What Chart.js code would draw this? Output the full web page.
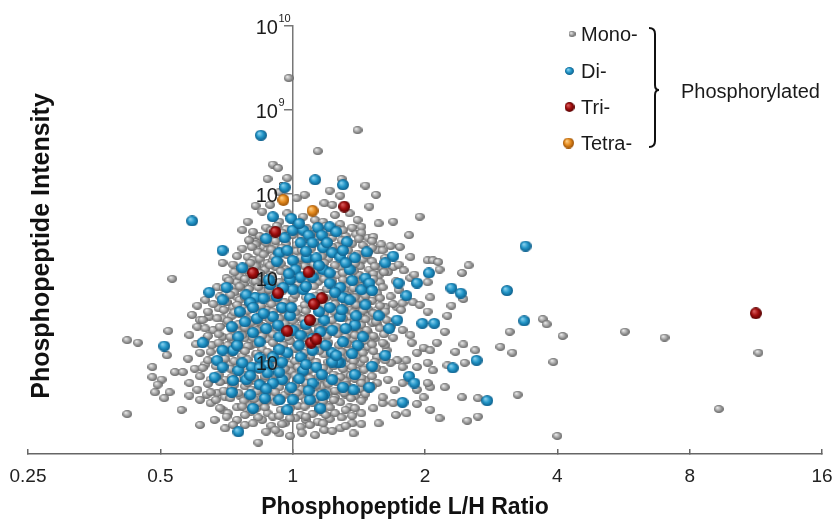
<!DOCTYPE html>
<html><head><meta charset="utf-8">
<script src="https://cdn.jsdelivr.net/npm/chart.js@4.4.0/dist/chart.umd.min.js"></script>
<style>html,body{margin:0;padding:0;background:#fff}#wrap{width:834px;height:525px;position:relative}</style>
</head><body><div id="wrap"><canvas id="c" width="834" height="525"></canvas></div>
<script>
// ---- tick labels / names ----
const xTickValues = [0.25, 0.5, 1, 2, 4, 8, 16];
const xTickLabels = ['0.25', '0.5', '1', '2', '4', '8', '16'];
const yTickExponents = [6, 7, 8, 9, 10];
const seriesNames = ['Mono-', 'Di-', 'Tri-', 'Tetra-'];
const groupLabel = 'Phosphorylated';
const xTitle = 'Phosphopeptide L/H Ratio';
const yTitle = 'Phosphopeptide Intensity';

// ---- data: log2(L/H ratio) and log10(intensity) ----
const monoLog2Ratio = [
-0.03,0.49,0.19,-0.15,-0.11,-0.19,-0.04,0.37,0.55,0.63,0.28,0.36,0.09,0.03,0.24,0.30,-0.23,-0.17,-0.04,0.43,0.49,0.52,0.08,0.17,0.23,0.58,0.65,0.76,0.96,0.88,0.67,-0.10,0.32,-0.10,-0.34,0.36,-0.28,
1.02,1.06,1.10,1.11,1.33,1.28,1.29,1.20,1.17,1.02,1.15,1.29,1.38,1.17,1.30,1.15,1.28,1.32,1.40,1.04,1.02,0.94,0.94,0.86,0.68,0.61,0.45,0.65,1.64,1.57,1.66,1.70,1.89,1.92,2.04,1.97,2.51,2.81,3.52,3.22,2.00,0.71,0.79,0.89,
0.57,0.61,0.76,0.72,0.89,0.92,1.02,0.91,0.96,1.04,0.79,0.83,0.70,0.64,0.61,0.58,0.64,0.83,0.89,0.76,0.70,0.90,0.94,0.99,1.04,1.09,1.02,1.06,0.86,0.83,0.74,0.68,0.64,0.58,0.64,0.72,0.77,0.83,0.94,0.99,0.68,0.76,0.53,0.52,0.43,
1.23,1.11,0.78,1.04,1.40,0.81,0.74,
-0.38,-0.30,-0.32,-0.27,-0.22,-0.23,-0.34,-0.30,-0.35,-0.25,-0.19,-0.15,-0.53,-0.45,-0.41,-0.36,-0.91,-0.50,-0.57,-0.42,-0.72,-0.76,-0.72,-0.94,-1.25,-1.17,-0.95,-1.06,-1.06,-0.79,-0.89,-0.83,-0.99,-1.02,-0.78,-0.72,-0.65,-0.84,-1.25,-0.26,-0.62,-0.53,-0.49,-0.42,-0.31,-0.26,-0.19,-0.15,-0.06,-0.10,0.06,-0.42,0.10,0.24,-0.02,0.36,0.17,
-0.70,-0.62,-0.57,-0.51,-0.46,-0.50,-0.45,-0.42,-0.50,-0.56,-0.63,-0.60,-0.53,-0.78,-0.66,-0.70,-0.66,-0.53,-0.61,-0.74,-0.66,-0.70,-0.78,-0.93,-0.59,-0.70,-0.51,-0.36,-0.97,-1.04,
-0.20,-0.12,-0.05,0.04,0.11,0.25,0.34,0.45,
-0.25,-0.17,-0.09,0.00,0.07,0.15,0.30,0.40,0.48,
-0.28,-0.20,-0.13,-0.05,0.03,0.20,0.34,0.45,0.53,
-0.26,-0.19,-0.12,0.03,0.25,0.42,0.49,0.57,0.64,
-0.25,-0.10,0.06,0.13,0.27,0.42,0.53,0.60,
-0.28,-0.21,-0.13,-0.06,0.09,0.19,0.36,0.43,0.51,0.58,0.66,
-0.40,-0.32,-0.23,-0.16,-0.05,0.06,0.19,0.34,0.42,0.50,0.57,0.65,
-0.37,-0.29,-0.22,-0.13,0.04,0.19,0.43,0.51,0.58,0.66,
-0.44,-0.23,-0.16,-0.08,0.21,0.43,0.49,0.56,0.64,
-0.40,-0.19,-0.13,0.00,0.21,0.32,0.45,0.52,0.60,
-0.37,-0.26,-0.19,-0.02,0.06,0.19,0.43,0.49,0.57,
-0.46,-0.40,-0.21,-0.06,0.04,0.22,0.43,0.51,
-0.41,-0.31,-0.23,-0.06,0.07,0.15,0.27,0.43,0.52,0.60,
-0.41,-0.34,-0.26,-0.19,0.12,0.22,0.43,0.49,0.57,
-0.46,-0.36,-0.31,-0.19,-0.02,0.09,0.22,0.45,0.55,0.62,
-0.40,-0.32,-0.23,-0.11,0.02,0.24,0.42,0.57,
-0.38,-0.28,-0.22,-0.10,0.13,0.24,0.42,0.49,
-0.47,-0.36,-0.26,-0.11,-0.02,0.27,0.43,0.51,
-0.34,-0.25,-0.10,-0.01,0.09,0.27,0.40,0.49,
-0.51,-0.40,-0.28,-0.21,0.04,0.22,0.40,0.47,0.55,
-0.46,-0.36,-0.31,-0.10,0.06,0.22,0.36,0.43,0.51,0.60,
-0.40,-0.23,-0.16,-0.06,0.06,0.17,0.32,0.40,0.47,
-0.34,-0.13,0.04,0.15,0.27,0.36,
-0.32,-0.06,0.15,0.22,0.32,
-0.23,0.02,0.19,0.28,
-0.30,-0.16,-0.08,0.02,0.21,0.29,0.38,0.52,
-0.33,-0.22,-0.13,0.10,0.26,0.37,0.50,0.60,
-0.38,-0.31,-0.16,-0.08,0.07,0.14,0.30,0.38,0.60,0.68,
-0.42,-0.22,-0.14,-0.04,0.06,0.22,0.31,0.45,0.56,0.70,
-0.45,-0.32,-0.17,-0.09,0.03,0.16,0.24,0.32,0.47,0.62,0.80,
-0.44,-0.36,-0.25,-0.09,0.01,0.12,0.26,0.38,0.46,0.61,0.69,0.84,
-0.48,-0.36,-0.28,-0.20,-0.10,0.10,0.24,0.30,0.38,0.46,0.53,0.61,0.78,
-0.52,-0.40,-0.33,-0.26,-0.18,0.01,0.16,0.26,0.32,0.39,0.46,0.53,0.60,0.68,0.80,
-0.55,-0.47,-0.36,-0.30,-0.23,-0.12,0.02,0.10,0.17,0.25,0.33,0.40,0.47,0.55,0.66,0.74,
-0.60,-0.50,-0.42,-0.33,-0.24,-0.16,-0.06,0.09,0.17,0.24,0.32,0.40,0.48,0.56,0.66,0.76,
-0.64,-0.52,-0.44,-0.34,-0.24,-0.15,-0.08,0.02,0.10,0.24,0.31,0.39,0.46,0.53,0.61,0.70,0.82,
-0.68,-0.57,-0.49,-0.34,-0.26,-0.17,-0.10,0.00,0.08,0.17,0.30,0.38,0.47,0.55,0.63,0.71,
-0.66,-0.55,-0.46,-0.36,-0.27,-0.18,-0.10,-0.02,0.03,0.11,0.20,0.33,0.39,0.47,0.56,0.66,0.74,
-0.64,-0.56,-0.47,-0.38,-0.30,-0.23,-0.15,-0.04,0.04,0.16,0.26,0.34,0.40,0.47,0.53,0.61,0.69,
-0.73,-0.56,-0.49,-0.41,-0.34,-0.27,-0.15,-0.07,0.05,0.13,0.18,0.27,0.35,0.41,0.50,0.60,0.68,
-0.62,-0.54,-0.46,-0.36,-0.27,-0.19,-0.07,0.09,0.20,0.29,0.37,0.46,0.53,0.61,
-0.64,-0.51,-0.44,-0.34,-0.25,-0.18,-0.06,0.02,0.09,0.18,0.29,0.37,0.46,0.54,0.62,0.70,
-0.68,-0.58,-0.47,-0.40,-0.30,-0.22,-0.14,-0.06,0.04,0.13,0.23,0.31,0.38,0.45,0.54,0.63,
-0.70,-0.56,-0.46,-0.37,-0.29,-0.21,-0.14,-0.05,0.02,0.13,0.20,0.31,0.36,0.44,0.52,0.60,
-0.64,-0.55,-0.44,-0.34,-0.25,-0.18,-0.06,0.02,0.10,0.18,0.27,0.33,0.40,0.52,0.58,
-0.62,-0.52,-0.41,-0.27,-0.20,-0.13,-0.03,0.03,0.12,0.18,0.27,0.32,0.39,0.47,0.55,
-0.58,-0.47,-0.37,-0.29,-0.20,-0.09,0.01,0.10,0.19,0.23,0.31,0.44,0.52,
-0.55,-0.38,-0.28,-0.21,-0.09,-0.02,0.09,0.20,0.28,0.40,0.47,
-0.50,-0.36,-0.26,-0.10,-0.02,0.10,0.25,0.37,0.45,
-0.45,-0.30,-0.16,-0.08,0.06,0.13,0.23,0.40,0.52,
-0.20,-0.13,0.07,0.30,0.46
];
const monoLog10Intensity = [
9.38,8.76,8.51,8.35,8.31,8.18,8.19,8.18,8.10,7.99,8.04,7.98,7.99,7.95,7.89,7.87,7.79,7.87,7.77,7.77,7.69,7.61,7.73,7.69,7.67,7.85,7.65,7.67,7.73,7.51,7.40,8.02,7.75,7.67,7.67,7.64,7.86,
7.21,7.21,7.19,7.10,7.15,7.06,6.75,6.67,6.55,6.60,6.36,6.21,6.14,5.96,5.99,5.70,5.58,5.30,5.35,5.70,5.75,5.94,5.50,5.39,5.51,5.45,5.27,5.27,6.36,6.18,6.11,5.61,6.51,6.45,6.31,6.00,6.36,6.29,6.11,5.44,5.12,6.14,6.02,7.25,
7.48,7.49,7.13,7.07,7.00,7.04,6.95,6.71,6.68,6.77,6.65,6.70,6.65,6.62,6.77,6.54,6.46,6.38,6.32,6.29,6.20,6.23,6.11,6.17,6.14,6.23,5.99,5.90,6.02,5.94,5.99,5.90,6.06,5.94,5.75,5.79,5.67,5.75,5.67,5.58,5.58,5.51,5.57,5.39,5.46,
6.12,5.33,5.37,5.43,5.57,7.37,7.38,
7.57,7.49,7.43,7.43,7.37,7.30,7.25,7.21,7.13,7.13,7.18,7.21,7.18,6.98,6.88,6.89,6.99,7.00,6.89,6.95,6.67,6.56,6.42,6.37,6.26,6.23,6.08,5.94,5.82,6.04,5.88,5.88,5.79,5.73,5.75,5.67,5.61,5.43,5.38,5.04,5.51,5.43,5.39,5.46,5.58,5.51,5.39,5.35,5.27,5.15,5.37,5.31,5.31,5.19,5.12,5.21,5.13,
6.11,5.79,5.63,5.58,5.75,6.46,6.65,6.77,6.71,6.64,6.54,6.38,6.30,6.32,6.74,6.50,6.27,6.52,6.20,5.92,5.97,5.55,5.60,5.64,5.31,5.25,5.21,5.25,5.57,5.64,
7.60,7.62,7.58,7.61,7.59,7.62,7.58,7.60,
7.50,7.52,7.48,7.51,7.49,7.52,7.48,7.50,7.52,
7.40,7.42,7.38,7.41,7.39,7.42,7.38,7.41,7.39,
7.31,7.33,7.29,7.32,7.30,7.33,7.29,7.31,7.33,
7.23,7.19,7.22,7.20,7.23,7.19,7.22,7.20,
7.14,7.10,7.13,7.11,7.14,7.10,7.13,7.11,7.14,7.10,7.13,
7.02,7.04,7.00,7.03,7.01,7.04,7.00,7.03,7.01,7.04,7.00,7.03,
6.93,6.95,6.91,6.94,6.92,6.95,6.91,6.94,6.92,6.95,
6.83,6.85,6.81,6.84,6.82,6.85,6.81,6.84,6.82,
6.74,6.76,6.72,6.75,6.73,6.76,6.72,6.75,6.73,
6.64,6.66,6.62,6.65,6.63,6.66,6.62,6.65,6.63,
6.55,6.57,6.53,6.56,6.54,6.57,6.53,6.56,
6.45,6.47,6.43,6.46,6.44,6.47,6.43,6.46,6.44,6.47,
6.36,6.38,6.34,6.37,6.35,6.38,6.34,6.37,6.35,
6.26,6.28,6.24,6.27,6.25,6.28,6.24,6.27,6.25,6.28,
6.17,6.19,6.15,6.18,6.16,6.19,6.15,6.18,
6.07,6.09,6.05,6.08,6.06,6.09,6.05,6.08,
5.98,6.00,5.96,5.99,5.97,6.00,5.96,5.99,
5.88,5.90,5.86,5.89,5.87,5.90,5.86,5.89,
5.79,5.81,5.77,5.80,5.78,5.81,5.77,5.80,5.78,
5.69,5.71,5.67,5.70,5.68,5.71,5.67,5.70,5.68,5.71,
5.60,5.62,5.58,5.61,5.59,5.62,5.58,5.61,5.59,
5.50,5.52,5.48,5.51,5.49,5.52,
5.40,5.42,5.38,5.41,5.39,
5.31,5.33,5.29,5.32,
7.55,7.57,7.54,7.56,7.53,7.55,7.57,7.54,
7.45,7.47,7.44,7.46,7.43,7.45,7.47,7.44,
7.35,7.37,7.34,7.36,7.33,7.35,7.37,7.34,7.36,7.33,
7.26,7.28,7.25,7.27,7.24,7.26,7.28,7.25,7.27,7.24,
7.16,7.18,7.15,7.17,7.14,7.16,7.18,7.15,7.17,7.14,7.16,
7.07,7.09,7.06,7.08,7.05,7.07,7.09,7.06,7.08,7.05,7.07,7.09,
6.97,6.99,6.96,6.98,6.95,6.97,6.99,6.96,6.98,6.95,6.97,6.99,6.96,
6.88,6.90,6.87,6.89,6.86,6.88,6.90,6.87,6.89,6.86,6.88,6.90,6.87,6.89,6.86,
6.78,6.80,6.77,6.79,6.76,6.78,6.80,6.77,6.79,6.76,6.78,6.80,6.77,6.79,6.76,6.78,
6.69,6.71,6.68,6.70,6.67,6.69,6.71,6.68,6.70,6.67,6.69,6.71,6.68,6.70,6.67,6.69,
6.60,6.62,6.59,6.61,6.58,6.60,6.62,6.59,6.61,6.58,6.60,6.62,6.59,6.61,6.58,6.60,6.62,
6.50,6.52,6.49,6.51,6.48,6.50,6.52,6.49,6.51,6.48,6.50,6.52,6.49,6.51,6.48,6.50,
6.40,6.42,6.39,6.41,6.38,6.40,6.42,6.39,6.41,6.38,6.40,6.42,6.39,6.41,6.38,6.40,6.42,
6.31,6.33,6.30,6.32,6.29,6.31,6.33,6.30,6.32,6.29,6.31,6.33,6.30,6.32,6.29,6.31,6.33,
6.21,6.23,6.20,6.22,6.19,6.21,6.23,6.20,6.22,6.19,6.21,6.23,6.20,6.22,6.19,6.21,6.23,
6.12,6.14,6.11,6.13,6.10,6.12,6.14,6.11,6.13,6.10,6.12,6.14,6.11,6.13,
6.02,6.04,6.01,6.03,6.00,6.02,6.04,6.01,6.03,6.00,6.02,6.04,6.01,6.03,6.00,6.02,
5.93,5.95,5.92,5.94,5.91,5.93,5.95,5.92,5.94,5.91,5.93,5.95,5.92,5.94,5.91,5.93,
5.83,5.85,5.82,5.84,5.81,5.83,5.85,5.82,5.84,5.81,5.83,5.85,5.82,5.84,5.81,5.83,
5.74,5.76,5.73,5.75,5.72,5.74,5.76,5.73,5.75,5.72,5.74,5.76,5.73,5.75,5.72,
5.64,5.66,5.63,5.65,5.62,5.64,5.66,5.63,5.65,5.62,5.64,5.66,5.63,5.65,5.62,
5.55,5.57,5.54,5.56,5.53,5.55,5.57,5.54,5.56,5.53,5.55,5.57,5.54,
5.45,5.47,5.44,5.46,5.43,5.45,5.47,5.44,5.46,5.43,5.45,
5.35,5.37,5.34,5.36,5.33,5.35,5.37,5.34,5.36,
5.25,5.27,5.24,5.26,5.23,5.25,5.27,5.24,5.26,
5.17,5.19,5.16,5.18,5.15
];
const diLog2Ratio = [
-0.15,-0.01,-0.06,-0.10,-0.04,0.00,0.08,0.19,0.28,0.12,
0.22,0.06,0.15,0.23,0.30,0.41,0.00,0.11,0.18,0.36,
0.47,0.56,0.02,0.06,0.15,0.23,0.28,0.52,0.36,0.28,
0.00,0.08,0.13,-0.38,-0.50,-0.35,-0.28,-0.17,-0.07,-0.02,
-0.32,-0.22,-0.08,-0.15,-0.36,-0.27,-0.46,-0.10,0.00,0.06,
-0.04,-0.15,0.06,0.15,0.18,0.08,-0.01,-0.08,0.15,0.30,
0.36,0.30,0.38,0.30,0.36,0.28,0.38,-0.25,-0.19,-0.25,
-0.15,-0.57,-0.53,-0.59,-0.45,-0.41,-0.35,-0.63,-0.53,-0.53,
-0.76,-0.97,-0.68,-0.41,-0.24,-0.06,0.17,0.38,1.76,1.62,
1.75,1.39,1.47,1.21,1.03,1.20,1.27,0.94,0.76,0.70,
0.80,0.86,0.98,1.07,0.79,0.73,0.88,0.92,0.83,0.58,
0.46,0.53,0.49,0.43,0.55,0.58,0.43,0.37,0.34,0.47,
0.55,-0.30,-0.22,-0.11,-0.53,-0.41,-0.31,-0.38,-0.46,-0.19,
0.21,0.24,0.24,0.13,0.00,0.47,-0.10,-0.21,-0.04,0.21,
-0.32,
-0.20,0.05,0.33,0.26,-0.12,0.38,0.20,-0.03,0.45,0.32,
-0.12,0.20,-0.02,0.10,-0.20,0.40,0.15,-0.30,0.25,-0.10,
0.05,-0.25,0.30,0.10,-0.10,0.22,-0.32,0.05,0.38,-0.20,
0.12,-0.45,-0.25,0.45,0.48,0.40,0.10,-0.18,-0.40,-0.42,
0.60,0.65,0.10,-0.01,0.33,-0.08,0.22,-0.30,0.60,0.70
];
const diLog10Intensity = [
7.73,7.71,7.48,7.30,7.33,7.57,7.57,7.60,7.61,7.51,
7.51,7.42,7.42,7.36,7.30,7.43,7.21,7.24,7.24,7.25,
7.24,7.31,7.10,7.01,7.01,7.10,7.06,6.86,6.89,6.94,
6.86,6.86,6.76,7.12,6.89,6.80,6.77,6.92,6.89,6.98,
6.71,6.76,6.65,6.54,6.48,6.52,6.42,6.30,6.38,6.32,
6.11,6.06,6.06,6.14,5.94,5.90,5.70,5.79,5.75,5.79,
5.99,6.11,6.24,6.38,6.54,6.65,6.77,6.24,5.96,5.73,
5.75,6.02,5.94,5.82,6.14,5.90,5.79,6.83,6.74,7.33,
7.68,6.19,6.23,5.17,8.70,8.08,8.17,8.11,7.38,6.85,
6.49,6.02,5.54,5.93,7.06,6.88,6.82,6.94,7.26,7.18,
6.94,6.79,6.46,6.46,6.50,6.40,5.83,5.75,5.52,5.70,
5.67,6.30,6.20,7.10,7.00,6.94,6.74,6.62,6.00,6.44,
6.68,6.65,6.58,6.44,6.14,6.30,5.94,5.99,5.64,5.87,
6.36,6.50,5.61,5.55,5.55,5.85,5.55,5.57,5.43,5.45,
5.61,
7.47,7.65,7.55,7.42,7.20,7.33,7.15,7.05,6.97,6.83,
6.78,6.60,6.55,6.45,6.40,6.40,6.28,6.35,6.20,6.15,
6.20,6.05,6.00,5.97,5.88,5.85,5.84,5.80,5.70,5.68,
5.66,5.78,5.93,6.10,6.55,7.18,7.32,6.98,6.60,6.20,
6.85,6.55,6.90,6.65,6.08,6.00,5.60,5.45,5.95,6.08
];
const triLog2Ratio = [0.39,-0.13,-0.30,0.12,-0.11,0.22,0.16,0.13,-0.04,0.14,0.18,3.50];
const triLog10Intensity = [7.85,7.55,7.06,7.07,6.82,6.76,6.69,6.50,6.37,6.23,6.27,6.58];
const tetraLog2Ratio = [-0.07,0.15];
const tetraLog10Intensity = [7.93,7.80];

// ---- build points ----
function toPoints(lx, ly){ return lx.map((v,i)=>({x: Math.pow(2,v), y: Math.pow(10, ly[i])})); }

function sphere(w, h, c0, c1, c2){
  const cv = document.createElement('canvas'); cv.width = w; cv.height = h;
  const g = cv.getContext('2d');
  const r = Math.max(w,h)/2;
  g.save();
  g.translate(w/2, h/2); g.scale(w/(2*r), h/(2*r));
  const grd = g.createRadialGradient(-r*0.35, -r*0.4, 0, 0, 0, r);
  grd.addColorStop(0, c0); grd.addColorStop(0.55, c1); grd.addColorStop(1, c2);
  g.fillStyle = grd; g.beginPath(); g.arc(0,0,r,0,Math.PI*2); g.fill();
  g.restore();
  return cv;
}
const greyC = ['#f4f4f4','#a6a6a6','#626262'];
const blueC = ['#9adaf4','#2396c8','#0b5d8a'];
const redC  = ['#e06a6a','#a30f0f','#560000'];
const orC   = ['#ffd796','#e58b1f','#9a5004'];
const imgMono = sphere(10,8,...greyC), imgDi = sphere(12,11,...blueC), imgTri = sphere(12,12,...redC), imgTetra = sphere(12,12,...orC);
const legMono = sphere(7,6,...greyC), legDi = sphere(9,8,...blueC), legTri = sphere(10,10,...redC), legTetra = sphere(11,11,...orC);

const FONT = '"Liberation Sans", Arial, Helvetica, sans-serif';

function yLabelPos(chart){
  const xs = chart.scales.x, ys = chart.scales.y;
  const lx = xs.getPixelForValue(1) - 37;
  return yTickExponents.map(e => ({ e: e, lx: lx, py: ys.getPixelForValue(Math.pow(10, e)) }));
}

const decor = {
  id: 'decor',
  beforeDatasetsDraw(chart){
    const ctx = chart.ctx;
    ctx.save();
    ctx.fillStyle = '#1a1a1a';
    yLabelPos(chart).forEach(p=>{
      ctx.font = '20px ' + FONT;
      const w = ctx.measureText('10').width;
      ctx.font = '11px ' + FONT; ctx.textAlign = 'left'; ctx.textBaseline = 'alphabetic';
      ctx.fillText(String(p.e), p.lx + w + 0.5, p.py - 4);
    });
    ctx.restore();
  },
  afterDatasetsDraw(chart){
    const ctx = chart.ctx;
    ctx.save();
    ctx.fillStyle = '#1a1a1a';
    yLabelPos(chart).forEach(p=>{
      ctx.font = '20px ' + FONT; ctx.textAlign = 'left'; ctx.textBaseline = 'middle';
      ctx.fillText('10', p.lx, p.py + 2);
    });
    ctx.restore();
  },
  afterDraw(chart){
    const ctx = chart.ctx;
    ctx.save();
    ctx.fillStyle = '#111';
    ctx.font = 'bold 23px ' + FONT; ctx.textAlign = 'center'; ctx.textBaseline = 'middle';
    ctx.fillText(xTitle, 405, 508);
    ctx.save(); ctx.translate(42, 246); ctx.rotate(-Math.PI/2);
    ctx.font = 'bold 25px ' + FONT; ctx.fillText(yTitle, 0, 0); ctx.restore();
    const ly = [34, 71, 107, 143], dx = [572, 569.5, 569.5, 568.5];
    const imgs = [legMono, legDi, legTri, legTetra];
    ctx.font = '20px ' + FONT; ctx.textAlign = 'left'; ctx.textBaseline = 'middle'; ctx.fillStyle = '#1a1a1a';
    seriesNames.forEach((n,i)=>{
      const im = imgs[i];
      ctx.drawImage(im, dx[i] - im.width/2, ly[i] - im.height/2);
      ctx.fillText(n, 581, ly[i] + 1);
    });
    ctx.strokeStyle = '#111'; ctx.lineWidth = 2;
    ctx.beginPath();
    ctx.moveTo(649, 28);
    ctx.quadraticCurveTo(655, 28, 655, 34);
    ctx.lineTo(655, 85);
    ctx.quadraticCurveTo(655, 90, 659, 90);
    ctx.quadraticCurveTo(655, 90, 655, 95);
    ctx.lineTo(655, 141);
    ctx.quadraticCurveTo(655, 147, 649, 147);
    ctx.stroke();
    ctx.fillText(groupLabel, 681, 92);
    ctx.restore();
  }
};

new Chart(document.getElementById('c'), {
  type: 'scatter',
  data: { datasets: [
    { label: seriesNames[3], data: toPoints(tetraLog2Ratio, tetraLog10Intensity), pointStyle: imgTetra, pointRadius: 5, order: 0 },
    { label: seriesNames[2], data: toPoints(triLog2Ratio, triLog10Intensity), pointStyle: imgTri, pointRadius: 5, order: 1 },
    { label: seriesNames[1], data: toPoints(diLog2Ratio, diLog10Intensity), pointStyle: imgDi, pointRadius: 5, order: 2 },
    { label: seriesNames[0], data: toPoints(monoLog2Ratio, monoLog10Intensity), pointStyle: imgMono, pointRadius: 4, order: 3 }
  ]},
  options: {
    responsive: false, animation: false, devicePixelRatio: 1,
    layout: { padding: { left: 28, right: 12, top: 26, bottom: 0 } },
    plugins: { legend: { display: false }, tooltip: { enabled: false } },
    scales: {
      x: {
        type: 'logarithmic', position: 'bottom', min: 0.25, max: 16, bounds: 'data',
        afterBuildTicks: s => { s.ticks = xTickValues.map(v => ({ value: v })); },
        afterFit: s => { s.height = 71; },
        ticks: { callback: v => xTickLabels[xTickValues.indexOf(v)], font: { family: FONT, size: 19, lineHeight: 2.84 }, color: '#222', padding: 1, maxRotation: 0, autoSkip: false },
        grid: { display: true, drawOnChartArea: false, drawTicks: true, tickLength: -5, color: '#666', lineWidth: 1.5 },
        border: { display: true, color: '#666', width: 1.5 }
      },
      y: {
        type: 'logarithmic', position: { x: 1 }, min: Math.pow(10, 4.905), max: 1e10, bounds: 'data',
        afterBuildTicks: s => { s.ticks = yTickExponents.map(e => ({ value: Math.pow(10, e) })); },
        ticks: { callback: () => '', font: { size: 1 } },
        grid: { display: true, drawOnChartArea: false, drawTicks: true, tickLength: 8, color: '#777', lineWidth: 1.5 },
        border: { display: true, color: '#777', width: 1.5 }
      }
    }
  },
  plugins: [decor]
});
</script>
</body></html>
